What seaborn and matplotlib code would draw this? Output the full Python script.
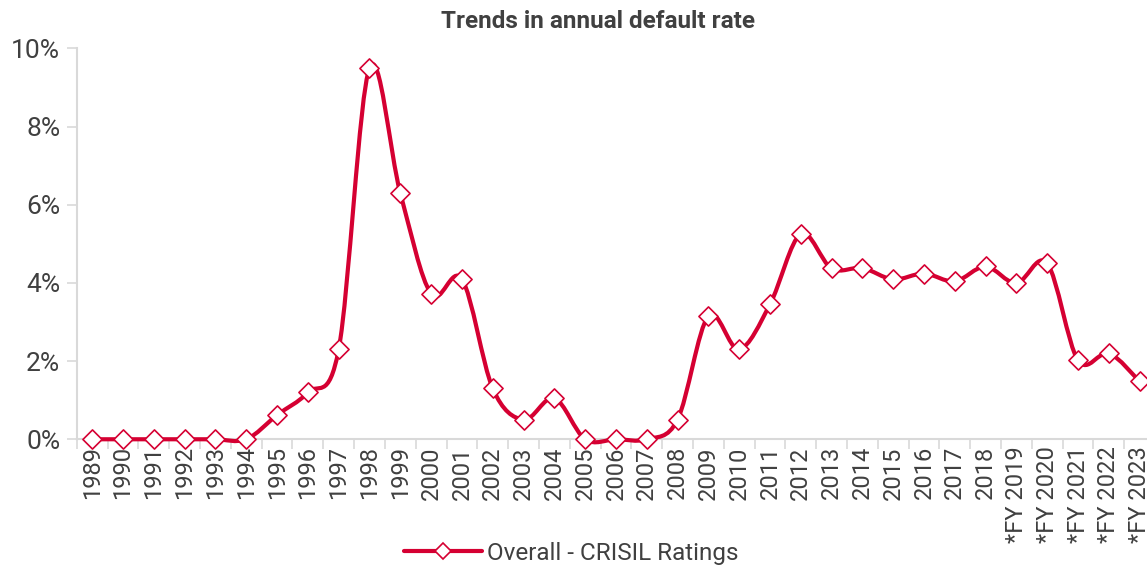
import numpy as np
import pandas as pd
import matplotlib
matplotlib.use("Agg")
import matplotlib.pyplot as plt
from matplotlib.path import Path
from matplotlib.patches import PathPatch
from matplotlib.lines import Line2D
from matplotlib.ticker import FuncFormatter, MultipleLocator
import seaborn as sns

# Data
years = ['1989', '1990', '1991', '1992', '1993', '1994', '1995', '1996', '1997',
         '1998', '1999', '2000', '2001', '2002', '2003', '2004', '2005', '2006',
         '2007', '2008', '2009', '2010', '2011', '2012', '2013', '2014', '2015',
         '2016', '2017', '2018', '*FY 2019', '*FY 2020', '*FY 2021', '*FY 2022',
         '*FY 2023']
default_rate = [0.0, 0.0, 0.0, 0.0, 0.0, 0.0, 0.62, 1.2, 2.3,
                9.5, 6.3, 3.72, 4.1, 1.3, 0.5, 1.05, 0.0, 0.0,
                0.0, 0.5, 3.15, 2.3, 3.45, 5.25, 4.37, 4.38, 4.09,
                4.24, 4.04, 4.42, 3.99, 4.5, 2.02, 2.2, 1.48]

df = pd.DataFrame({'pos': np.arange(len(years)), 'rate': default_rate})

RED = '#d50032'
TXT = '#404040'
GRID = '#d9d9d9'

sns.set_theme(style='white')
plt.rcParams['font.family'] = ['Roboto', 'DejaVu Sans']

fig = plt.figure(figsize=(11.47, 5.69), dpi=100)
ax = fig.add_axes([0.067, 0.228, 0.94, 0.687])

# smoothed line (Catmull-Rom as cubic bezier, like Excel "smoothed line")
x = df['pos'].to_numpy(dtype=float)
y = df['rate'].to_numpy(dtype=float)
verts = [(x[0], y[0])]
codes = [Path.MOVETO]
n = len(x)
for i in range(n - 1):
    p0 = i - 1 if i > 0 else i
    p3 = i + 2 if i + 2 < n else i + 1
    c1 = (x[i] + (x[i + 1] - x[p0]) / 6, y[i] + (y[i + 1] - y[p0]) / 6)
    c2 = (x[i + 1] - (x[p3] - x[i]) / 6, y[i + 1] - (y[p3] - y[i]) / 6)
    verts += [c1, c2, (x[i + 1], y[i + 1])]
    codes += [Path.CURVE4] * 3
ax.add_patch(PathPatch(Path(verts, codes), facecolor='none', edgecolor=RED,
                       lw=3, capstyle='round', joinstyle='round', zorder=3,
                       clip_on=False))

sns.scatterplot(data=df, x='pos', y='rate', marker='D', s=95, color='white',
                edgecolor=RED, linewidth=1.2, zorder=4, ax=ax, legend=False,
                clip_on=False)

ax.set_xlim(-0.5, len(years) - 0.5)
ax.set_ylim(0, 10)
ax.yaxis.set_major_locator(MultipleLocator(2))
ax.yaxis.set_major_formatter(FuncFormatter(lambda v, p: f'{v:.0f}%'))

ax.set_xticks(df['pos'])
ax.set_xticklabels(years, rotation=90)
ax.set_xticks(np.arange(-0.5, len(years), 1), minor=True)
ax.tick_params(axis='x', which='major', length=0, pad=5, labelsize=17, labelcolor=TXT)
ax.tick_params(axis='x', which='minor', length=7, width=1.2, color=GRID, direction='out', bottom=True)
ax.tick_params(axis='y', length=7, width=1.2, color=GRID, direction='out', left=True,
               labelsize=19, labelcolor=TXT, pad=5)

for s in ['top', 'right']:
    ax.spines[s].set_visible(False)
for s in ['left', 'bottom']:
    ax.spines[s].set_color(GRID)
    ax.spines[s].set_linewidth(1.5)
    ax.spines[s].set_zorder(1)
ax.set_xlabel('')
ax.set_ylabel('')

fig.text(0.521, 0.962, 'Trends in annual default rate', ha='center', va='center',
         fontsize=17.5, fontweight='bold', color=TXT)

handle = Line2D([0], [0], color=RED, lw=3, marker='D', markersize=8,
                markerfacecolor='white', markeredgecolor=RED, markeredgewidth=1.2)
fig.legend([handle], ['Overall - CRISIL Ratings'], loc='center', bbox_to_anchor=(0.498, 0.028),
           frameon=False, fontsize=17.5, labelcolor=TXT, handlelength=3.2, handletextpad=0.2)

fig.savefig('out.png', dpi=100)
